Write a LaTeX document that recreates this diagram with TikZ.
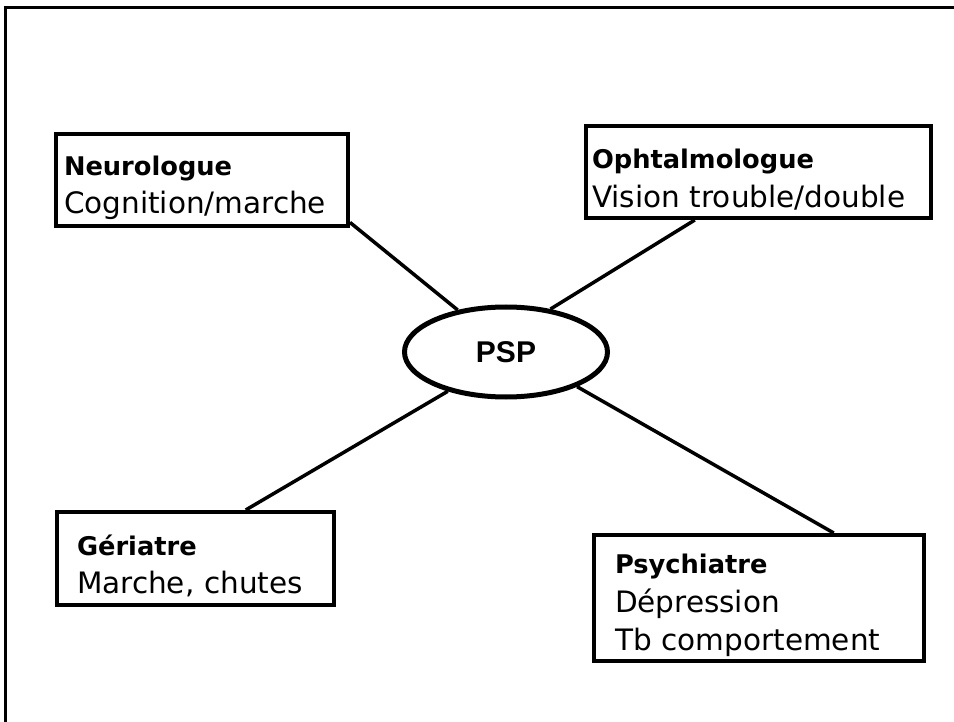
\documentclass[tikz,border=0pt]{standalone}
\usepackage{fontspec}
\setmainfont{DejaVu Sans}
\newfontfamily\pspfont{Liberation Sans}
\usetikzlibrary{shapes.geometric}
\newcommand\boxhead[1]{{\fontsize{25.7}{38.5}\selectfont\bfseries\rule{0pt}{35pt}#1}}
\tikzset{
  speciality/.style={rectangle, draw=black, line width=4pt, align=left, inner ysep=0pt, font=\fontsize{29.5}{38.5}\selectfont},
  disease/.style={ellipse, draw=black, line width=5pt, minimum width=203pt, minimum height=90pt, inner sep=0pt, font=\pspfont\bfseries\fontsize{30}{36}\selectfont},
  link/.style={line width=3.5pt},
}
\begin{document}
\begin{tikzpicture}[x=1pt,y=-1pt]
  \useasboundingbox (0,0) rectangle (954,722);
  \draw[line width=3pt] (954,8) -- (5,8) -- (5,722);
  \node[disease] (psp) at (506,352) {PSP};
  \node[speciality, minimum width=292pt, minimum height=92pt, inner xsep=8pt, text width=276pt] (neuro) at (202,180) {\boxhead{Neurologue}\\Cognition/marche};
  \node[speciality, minimum width=345pt, minimum height=92pt, inner xsep=6pt, text width=333pt] (ophta) at (758.5,172) {\boxhead{Ophtalmologue}\\Vision trouble/double};
  \node[speciality, minimum width=277pt, minimum height=93pt, inner xsep=20pt, text width=237pt] (geri) at (195.5,558.5) {\boxhead{Gériatre}\\Marche, chutes};
  \node[speciality, minimum width=330pt, minimum height=126pt, inner xsep=21pt, text width=288pt] (psych) at (759,598) {\boxhead{Psychiatre}\\Dépression\\Tb comportement};
  \draw[link] (neuro.-16) -- (psp.139);
  \draw[link] (ophta.217) -- (psp.44);
  \draw[link] (geri.44) -- (psp.214);
  \draw[link] (psych.41) -- (psp.334);
\end{tikzpicture}
\end{document}
